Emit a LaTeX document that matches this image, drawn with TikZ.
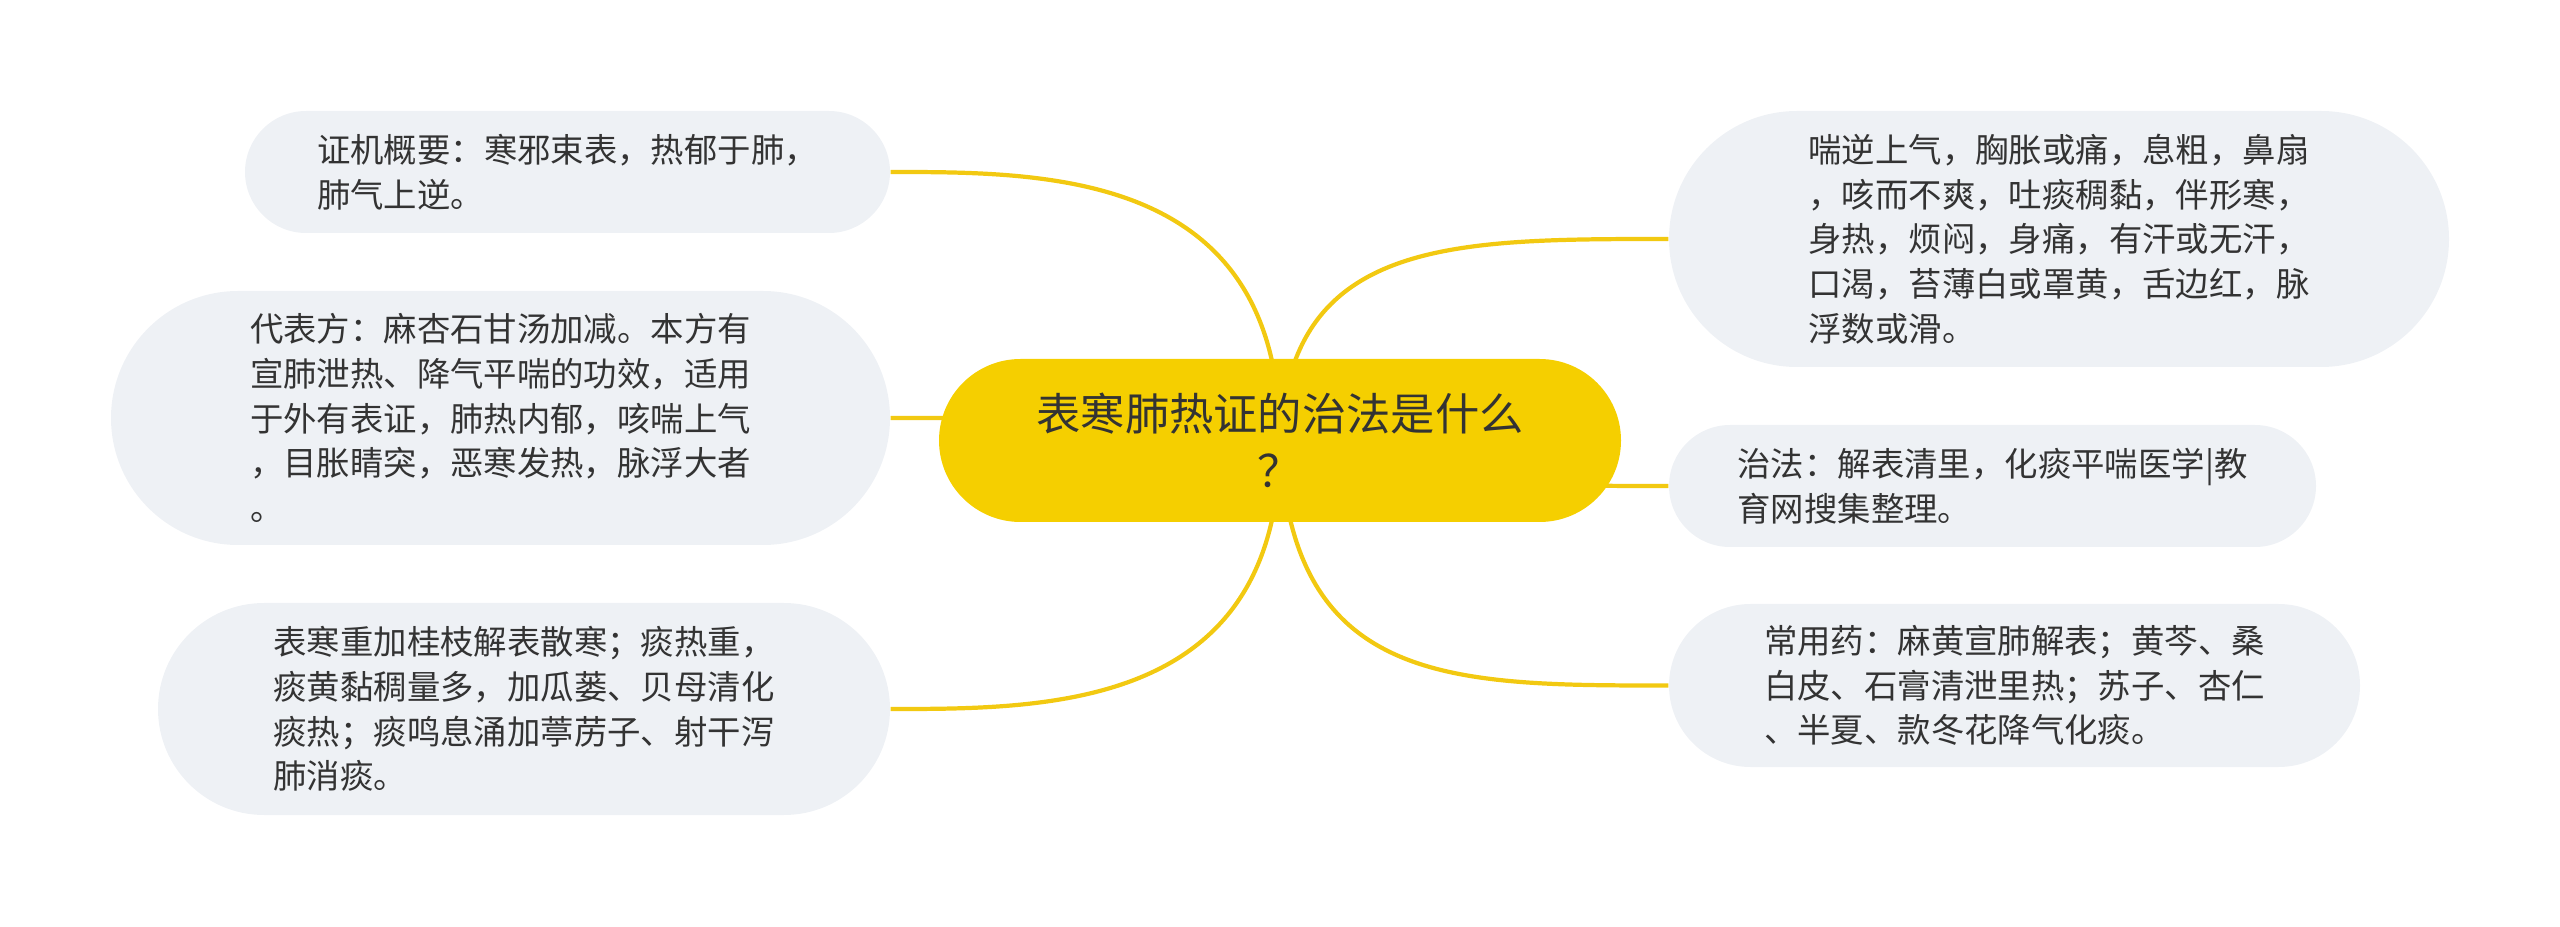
\documentclass[tikz,border=0pt]{standalone}
\usepackage{fontspec}
\newfontfamily\cjk{Noto Sans CJK SC}
\usepackage{tikz}
\usetikzlibrary{shapes.misc, backgrounds}

\definecolor{rootyellow}{RGB}{245,207,0}
\definecolor{branchyellow}{RGB}{242,201,17}
\definecolor{leafgray}{RGB}{238,241,245}
\definecolor{textdark}{RGB}{51,51,51}

\begin{document}
\begin{tikzpicture}[line join=round, line cap=round,
		rootbox/.style={rounded rectangle, fill=rootyellow, text=textdark, align=center,
			minimum width=6.82cm, minimum height=1.63cm, inner sep=0pt,
			font=\cjk\fontsize{12.6}{16.2}\selectfont},
		leaf/.style 2 args={rounded rectangle, fill=leafgray, text=textdark, align=left,
			minimum width=#1, minimum height=#2, inner sep=0pt,
			font=\cjk\fontsize{9.5}{12.7}\selectfont},
		branch/.style={draw=branchyellow, line width=1.2pt}]
	\useasboundingbox (0,0) rectangle (25.6,-9.27);
	
	% --- centre ---
	\node[rootbox] (root) at (12.80,-4.405) {表寒肺热证的治法是什么\\？};
	
	% --- LEFT side ---
	\node[leaf={6.45cm}{1.22cm}] (l1) at (5.675,-1.72)
	{证机概要：寒邪束表，热郁于肺，\\肺气上逆。};
	\node[leaf={7.79cm}{2.54cm}] (l2) at (5.005,-4.18)
	{代表方：麻杏石甘汤加减。本方有\\宣肺泄热、降气平喘的功效，适用\\于外有表证，肺热内郁，咳喘上气\\，目胀睛突，恶寒发热，脉浮大者\\。};
	\node[leaf={7.32cm}{2.12cm}] (l3) at (5.24,-7.09)
	{表寒重加桂枝解表散寒；痰热重，\\痰黄黏稠量多，加瓜蒌、贝母清化\\痰热；痰鸣息涌加葶苈子、射干泻\\肺消痰。};
	
	% --- RIGHT side ---
	\node[leaf={7.80cm}{2.56cm}] (r1) at (20.59,-2.39)
	{喘逆上气，胸胀或痛，息粗，鼻扇\\，咳而不爽，吐痰稠黏，伴形寒，\\身热，烦闷，身痛，有汗或无汗，\\口渴，苔薄白或罩黄，舌边红，脉\\浮数或滑。};
	\node[leaf={6.47cm}{1.22cm}] (r2) at (19.925,-4.86)
	{治法：解表清里，化痰平喘医学|教\\育网搜集整理。};
	\node[leaf={6.91cm}{1.63cm}] (r3) at (20.145,-6.855)
	{常用药：麻黄宣肺解表；黄芩、桑\\白皮、石膏清泄里热；苏子、杏仁\\、半夏、款冬花降气化痰。};
	
	% --- branches, behind the boxes ---
	\begin{scope}[on background layer]
		\draw[branch] (root.center) .. controls (12.80,-1.72) and (10.5,-1.72) .. (l1.east);
		\draw[branch] (root.center) .. controls (11.5,-4.18) and (10.2,-4.18) .. (l2.east);
		\draw[branch] (root.center) .. controls (12.80,-7.09) and (10.5,-7.09) .. (l3.east);
		\draw[branch] (root.center) .. controls (12.90,-2.39) and (14.5,-2.39) .. (r1.west);
		\draw[branch] (root.center) .. controls (14.1,-4.86) and (15.4,-4.86) .. (r2.west);
		\draw[branch] (root.center) .. controls (12.90,-6.855) and (14.5,-6.855) .. (r3.west);
	\end{scope}
\end{tikzpicture}
\end{document}
